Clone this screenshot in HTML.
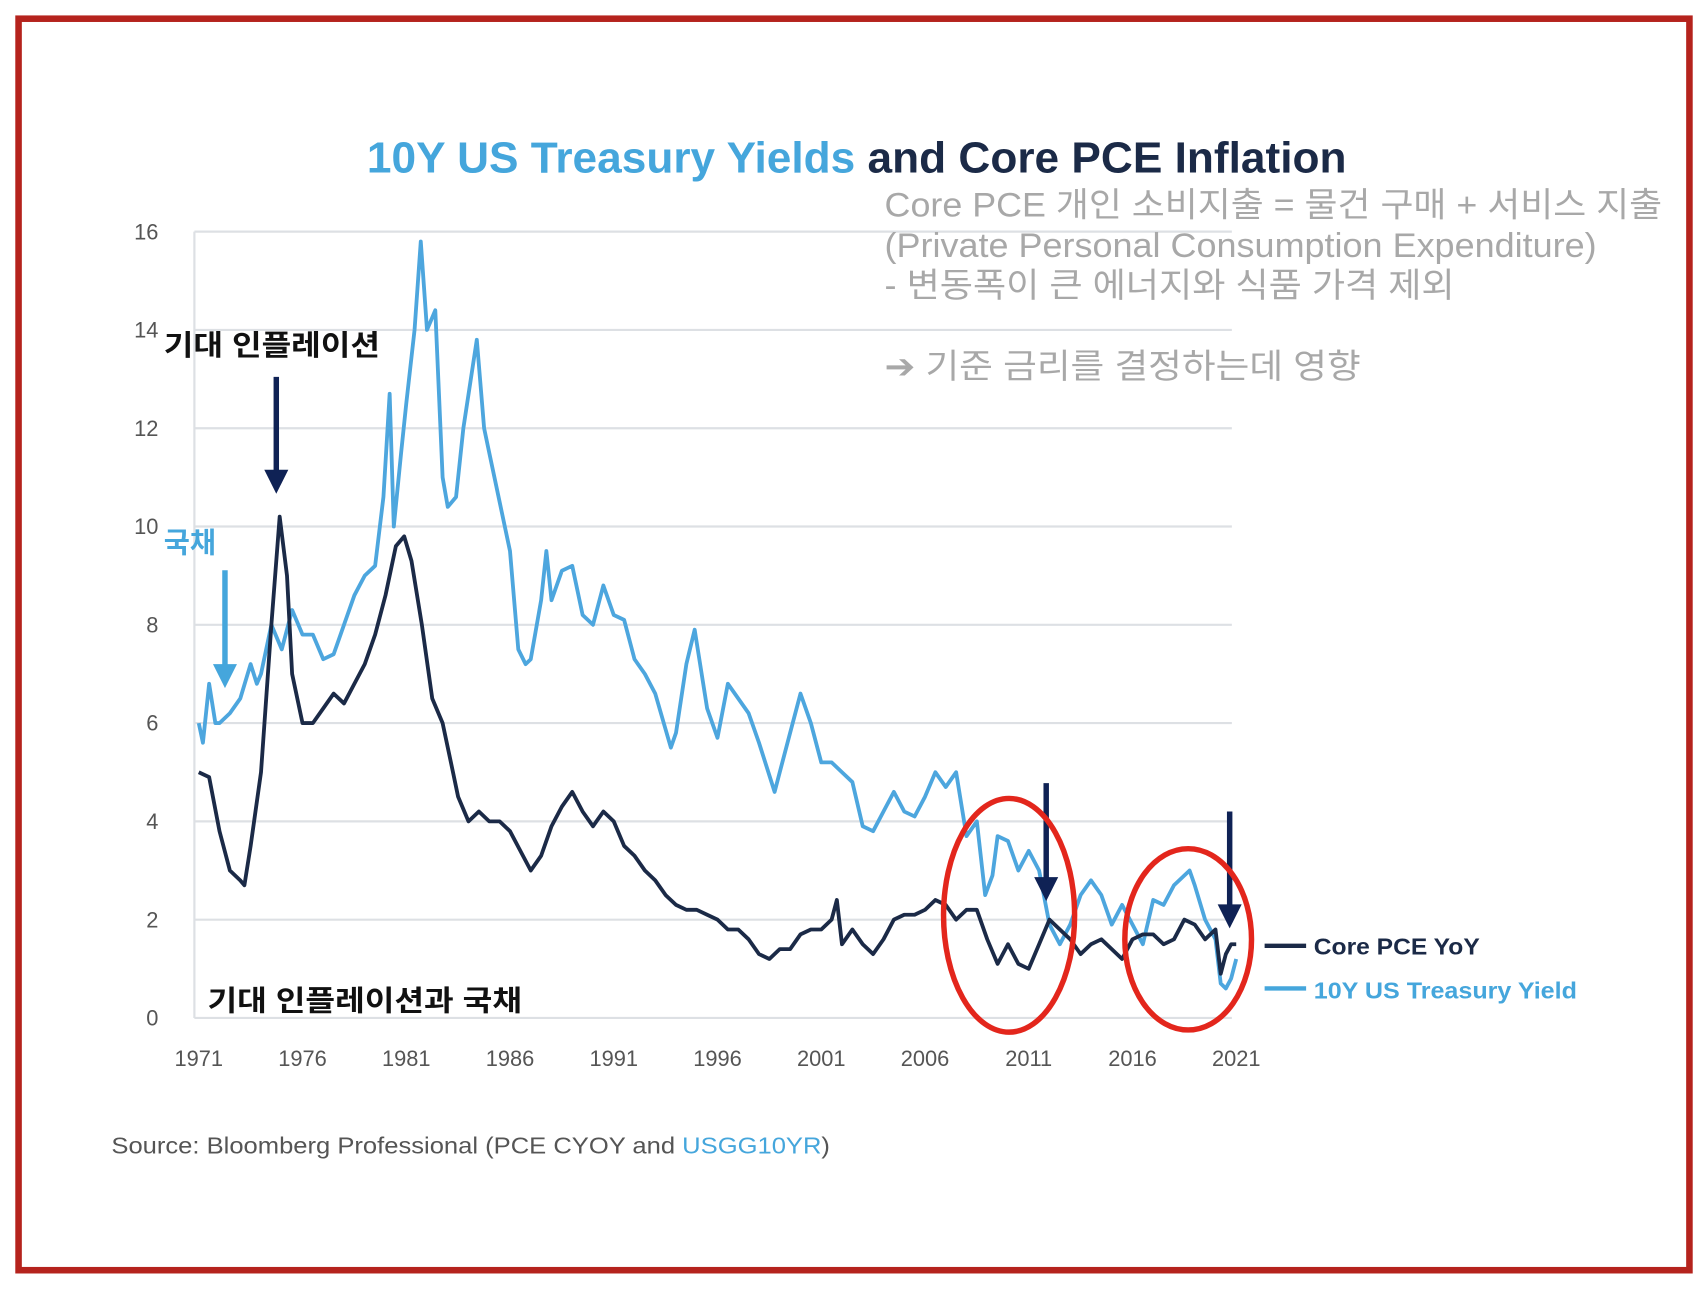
<!DOCTYPE html>
<html><head><meta charset="utf-8"><style>
html,body{margin:0;padding:0;background:#fff;}
svg{display:block;}
text{font-family:"Liberation Sans","Noto Sans CJK KR",sans-serif;}
</style></head><body>
<svg id="chart" width="1708" height="1290" viewBox="0 0 1564 1181" xmlns="http://www.w3.org/2000/svg">
<rect x="17" y="17" width="1530" height="1146" fill="#fff" stroke="#b5231d" stroke-width="6"/>
<text x="336" y="158" font-size="40" font-weight="bold" textLength="897" lengthAdjust="spacingAndGlyphs"><tspan fill="#45a6dc">10Y US Treasury Yields</tspan><tspan fill="#1b2a47"> and Core PCE Inflation</tspan></text>
<g id="grid"></g>
<g id="series"></g>
<g fill="#a8a8a8" font-size="31">
<text x="810" y="198" textLength="712" lengthAdjust="spacingAndGlyphs">Core PCE 개인 소비지출 = 물건 구매 + 서비스 지출</text>
<text x="810" y="235" textLength="652" lengthAdjust="spacingAndGlyphs">(Private Personal Consumption Expenditure)</text>
<text x="810" y="272" textLength="522" lengthAdjust="spacingAndGlyphs">- 변동폭이 큰 에너지와 식품 가격 제외</text>
<text x="810" y="346" textLength="436" lengthAdjust="spacingAndGlyphs">➔ 기준 금리를 결정하는데 영향</text>
</g>
<text x="150" y="325" font-size="26" font-weight="bold" fill="#111" textLength="198" lengthAdjust="spacingAndGlyphs">기대 인플레이션</text>
<text x="150" y="506" font-size="26" font-weight="bold" fill="#45a6dc">국채</text>
<text x="190" y="925" font-size="26" font-weight="bold" fill="#111" textLength="288" lengthAdjust="spacingAndGlyphs">기대 인플레이션과 국채</text>
<g>
<line x1="253" y1="345" x2="253" y2="432" stroke="#0f2255" stroke-width="5"/><polygon points="242,430 264,430 253,452" fill="#0f2255"/>
<line x1="206" y1="522" x2="206" y2="610" stroke="#45a6dc" stroke-width="5"/><polygon points="195,608 217,608 206,630" fill="#45a6dc"/>
<line x1="958" y1="717" x2="958" y2="805" stroke="#0f2255" stroke-width="5"/><polygon points="947,803 969,803 958,825" fill="#0f2255"/>
<line x1="1126" y1="743" x2="1126" y2="830" stroke="#0f2255" stroke-width="5"/><polygon points="1115,828 1137,828 1126,850" fill="#0f2255"/>
</g>
<ellipse cx="924" cy="838" rx="60" ry="107" fill="none" stroke="#e3261c" stroke-width="5"/>
<ellipse cx="1088" cy="860" rx="58" ry="83" fill="none" stroke="#e3261c" stroke-width="5"/>
<g font-size="21" font-weight="bold">
<line x1="1158" y1="866" x2="1196" y2="866" stroke="#1b2a47" stroke-width="4"/>
<text x="1203" y="874" fill="#1b2a47" textLength="152" lengthAdjust="spacingAndGlyphs">Core PCE YoY</text>
<line x1="1158" y1="905" x2="1196" y2="905" stroke="#45a6dc" stroke-width="4"/>
<text x="1203" y="914" fill="#45a6dc" textLength="241" lengthAdjust="spacingAndGlyphs">10Y US Treasury Yield</text>
</g>
<text x="102" y="1056" font-size="21" fill="#555" textLength="658" lengthAdjust="spacingAndGlyphs">Source: Bloomberg Professional (PCE CYOY and <tspan fill="#45a6dc">USGG10YR</tspan>)</text>
<script>
const yTicks=[0,2,4,6,8,10,12,14,16];
const xTicks=[1971,1976,1981,1986,1991,1996,2001,2006,2011,2016,2021];
const tyYears=[1971,1971.2,1971.5,1971.8,1972,1972.5,1973,1973.5,1973.8,1974,1974.5,1975,1975.5,1976,1976.5,1977,1977.5,1978,1978.5,1979,1979.5,1979.9,1980.2,1980.4,1980.75,1981,1981.4,1981.7,1982,1982.4,1982.75,1983,1983.4,1983.75,1984.4,1984.75,1985,1985.5,1986,1986.4,1986.75,1987,1987.5,1987.75,1988,1988.5,1989,1989.5,1990,1990.5,1991,1991.5,1992,1992.5,1993,1993.75,1994,1994.5,1994.9,1995.5,1996,1996.5,1997,1997.5,1998,1998.75,1999,1999.5,2000,2000.5,2001,2001.5,2002,2002.5,2003,2003.5,2004,2004.5,2005,2005.5,2006,2006.5,2007,2007.5,2008,2008.5,2008.9,2009.25,2009.5,2010,2010.5,2011,2011.5,2012,2012.5,2013,2013.5,2014,2014.5,2015,2015.5,2016,2016.5,2017,2017.5,2018,2018.75,2019,2019.5,2020,2020.25,2020.5,2020.75,2021];
const tyValues=[6.0,5.6,6.8,6.0,6.0,6.2,6.5,7.2,6.8,7.0,8.0,7.5,8.3,7.8,7.8,7.3,7.4,8.0,8.6,9.0,9.2,10.6,12.7,10.0,11.5,12.5,14.0,15.8,14.0,14.4,11.0,10.4,10.6,12.0,13.8,12.0,11.5,10.5,9.5,7.5,7.2,7.3,8.5,9.5,8.5,9.1,9.2,8.2,8.0,8.8,8.2,8.1,7.3,7.0,6.6,5.5,5.8,7.2,7.9,6.3,5.7,6.8,6.5,6.2,5.6,4.6,5.0,5.8,6.6,6.0,5.2,5.2,5.0,4.8,3.9,3.8,4.2,4.6,4.2,4.1,4.5,5.0,4.7,5.0,3.7,4.0,2.5,2.9,3.7,3.6,3.0,3.4,3.0,1.9,1.5,1.9,2.5,2.8,2.5,1.9,2.3,1.9,1.5,2.4,2.3,2.7,3.0,2.7,2.0,1.6,0.7,0.6,0.8,1.2];
const pceYears=[1971,1971.5,1972,1972.5,1973,1973.2,1973.5,1974,1974.5,1974.9,1975.25,1975.5,1976,1976.5,1977,1977.5,1978,1978.5,1979,1979.5,1980,1980.5,1980.9,1981.25,1981.75,1982.25,1982.75,1983.25,1983.5,1984,1984.5,1985,1985.5,1986,1986.5,1987,1987.5,1988,1988.5,1989,1989.5,1990,1990.5,1991,1991.5,1992,1992.5,1993,1993.5,1994,1994.5,1995,1995.5,1996,1996.5,1997,1997.5,1998,1998.5,1999,1999.5,2000,2000.5,2001,2001.5,2001.75,2002,2002.5,2003,2003.5,2004,2004.5,2005,2005.5,2006,2006.5,2007,2007.5,2008,2008.5,2009,2009.5,2010,2010.5,2011,2011.5,2012,2012.5,2013,2013.5,2014,2014.5,2015,2015.5,2016,2016.5,2017,2017.5,2018,2018.5,2019,2019.5,2020,2020.25,2020.5,2020.75,2021];
const pceValues=[5.0,4.9,3.8,3.0,2.8,2.7,3.5,5.0,8.0,10.2,9.0,7.0,6.0,6.0,6.3,6.6,6.4,6.8,7.2,7.8,8.6,9.6,9.8,9.3,8.0,6.5,6.0,5.0,4.5,4.0,4.2,4.0,4.0,3.8,3.4,3.0,3.3,3.9,4.3,4.6,4.2,3.9,4.2,4.0,3.5,3.3,3.0,2.8,2.5,2.3,2.2,2.2,2.1,2.0,1.8,1.8,1.6,1.3,1.2,1.4,1.4,1.7,1.8,1.8,2.0,2.4,1.5,1.8,1.5,1.3,1.6,2.0,2.1,2.1,2.2,2.4,2.3,2.0,2.2,2.2,1.6,1.1,1.5,1.1,1.0,1.5,2.0,1.8,1.6,1.3,1.5,1.6,1.4,1.2,1.6,1.7,1.7,1.5,1.6,2.0,1.9,1.6,1.8,0.9,1.3,1.5,1.5];
const NS="http://www.w3.org/2000/svg";
const X0=178,X1=1128,Y0=932,Y1=212;
function xs(y){return 182+(y-1971)*19;}
function ys(v){return Y0-(v/16)*(Y0-Y1);}
const grid=document.getElementById('grid');
yTicks.forEach(t=>{
 const l=document.createElementNS(NS,'line');
 
 
 l.setAttribute('x1',X0);l.setAttribute('x2',X1);l.setAttribute('y1',ys(t));l.setAttribute('y2',ys(t));
 l.setAttribute('stroke','#dde0e4');l.setAttribute('stroke-width','2');grid.appendChild(l);
 const tx=document.createElementNS(NS,'text');
 
 
 tx.setAttribute('x',145);tx.setAttribute('y',ys(t)+7);tx.setAttribute('text-anchor','end');
 tx.setAttribute('font-size','20');tx.setAttribute('fill','#555');tx.textContent=t;grid.appendChild(tx);
});
const ax=document.createElementNS(NS,'line');


ax.setAttribute('x1',X0);ax.setAttribute('x2',X0);ax.setAttribute('y1',Y1);ax.setAttribute('y2',Y0);
ax.setAttribute('stroke','#dde0e4');ax.setAttribute('stroke-width','2');grid.appendChild(ax);
xTicks.forEach(t=>{
 const tx=document.createElementNS(NS,'text');
 
 
 tx.setAttribute('x',xs(t));tx.setAttribute('y',976);tx.setAttribute('text-anchor','middle');
 tx.setAttribute('font-size','20');tx.setAttribute('fill','#555');tx.textContent=t;grid.appendChild(tx);
});
const ser=document.getElementById('series');
function draw(xsArr,vals,color,name){
 const p=document.createElementNS(NS,'path');
 
 
 p.setAttribute('d',vals.map((v,i)=>(i?'L':'M')+xs(xsArr[i]).toFixed(1)+','+ys(v).toFixed(1)).join(''));
 p.setAttribute('fill','none');p.setAttribute('stroke',color);p.setAttribute('stroke-width','3.5');
 p.setAttribute('stroke-linejoin','round');ser.appendChild(p);
}
draw(tyYears,tyValues,'#4da6de','treasury-yield-line');
draw(pceYears,pceValues,'#1b2a47','core-pce-line');
</script>
</svg>
</body></html>
